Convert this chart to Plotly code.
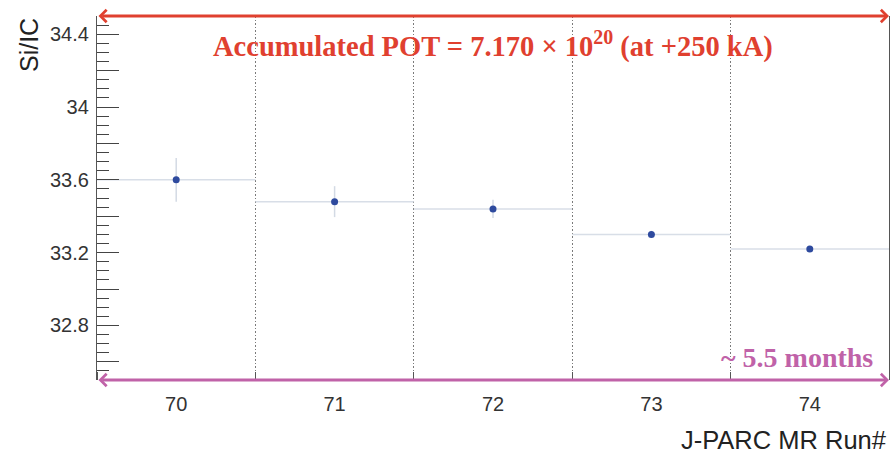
import plotly.graph_objects as go

runs = [70, 71, 72, 73, 74]
sic = [33.60, 33.48, 33.44, 33.30, 33.22]
sic_err = [0.12, 0.085, 0.05, 0.02, 0.012]
bin_half_width = 0.5

y_tickvals = [32.6, 32.8, 33.0, 33.2, 33.4, 33.6, 33.8, 34.0, 34.2, 34.4]
y_ticktext = ["", "32.8", "", "33.2", "", "33.6", "", "34", "", "34.4"]
x_ticktext = ["70", "71", "72", "73", "74"]

RED = "#e0402f"
PINK = "#c062a8"
AXC = "#333333"

fig = go.Figure()
fig.add_trace(go.Scatter(
    x=runs, y=sic, mode="markers",
    marker=dict(color="#2e4a9e", size=7),
    error_y=dict(type="data", array=sic_err, color="#d3dae4", thickness=1.5, width=0),
    error_x=dict(type="constant", value=bin_half_width, color="#d8dee7", thickness=1.5, width=0),
    showlegend=False,
))

xmin, xmax = runs[0] - bin_half_width, runs[-1] + bin_half_width
ymin, ymax = 32.5, 34.5

fig.update_layout(
    width=893, height=460,
    margin=dict(l=97, r=4, t=16, b=80),
    plot_bgcolor="white", paper_bgcolor="white",
    font=dict(family="Liberation Sans, Arial, sans-serif", color=AXC),
    xaxis=dict(
        range=[xmin, xmax], tickvals=runs, ticktext=x_ticktext,
        ticks="", showgrid=False, zeroline=False, showline=False,
        tickfont=dict(size=20, color=AXC), ticklabelstandoff=10,
        minor=dict(tick0=xmin, dtick=1, ticks="inside", ticklen=8,
                   tickcolor="#555", showgrid=True, gridcolor="#7a7a7a",
                   griddash="1.5px,2px", gridwidth=1.3),
    ),
    yaxis=dict(
        range=[ymin, ymax], tickvals=y_tickvals, ticktext=y_ticktext,
        ticks="inside", ticklen=22, tickwidth=1.3, tickcolor="#444",
        showgrid=False, zeroline=False, showline=True, linecolor="#555",
        linewidth=1.3, mirror=True,
        tickfont=dict(size=20, color=AXC), ticklabelstandoff=3,
        minor=dict(tick0=ymin, dtick=0.05, ticks="inside", ticklen=12,
                   tickwidth=1.3, tickcolor="#444", showgrid=False),
    ),
)

# red double arrow at top
fig.add_annotation(x=xmax, y=ymax, ax=xmin, ay=ymax, xref="x", yref="y",
                   axref="x", ayref="y", text="", showarrow=True,
                   arrowhead=4, startarrowhead=4, arrowside="end+start",
                   arrowsize=0.8, startarrowsize=0.8, arrowwidth=3, arrowcolor=RED)
# pink double arrow at bottom
fig.add_annotation(x=xmax, y=ymin, ax=xmin, ay=ymin, xref="x", yref="y",
                   axref="x", ayref="y", text="", showarrow=True,
                   arrowhead=4, startarrowhead=4, arrowside="end+start",
                   arrowsize=0.8, startarrowsize=0.8, arrowwidth=3, arrowcolor=PINK)

fig.add_annotation(
    text="<b>Accumulated POT = 7.170 × 10<sup>20</sup> (at +250 kA)</b>",
    xref="paper", yref="paper", x=0.5, y=1, yshift=-28, yanchor="middle",
    showarrow=False, font=dict(family="Liberation Serif, serif", size=28.5, color=RED))
fig.add_annotation(
    text="<b>~ 5.5 months</b>",
    xref="paper", yref="paper", x=1, xshift=-14, xanchor="right", y=0, yshift=23,
    yanchor="middle", showarrow=False,
    font=dict(family="Liberation Serif, serif", size=28, color=PINK))

fig.add_annotation(text="Si/IC", textangle=-90, xref="paper", yref="paper",
                   x=0, xshift=-68, xanchor="center", y=1, yanchor="top",
                   showarrow=False, font=dict(size=25, color="#222"))
fig.add_annotation(text="J-PARC MR Run#", xref="paper", yref="paper",
                   x=1, xanchor="right", xshift=0, y=0, yshift=-60, yanchor="middle",
                   showarrow=False, font=dict(size=25.5, color="#222"))

fig.write_html("out.html")
